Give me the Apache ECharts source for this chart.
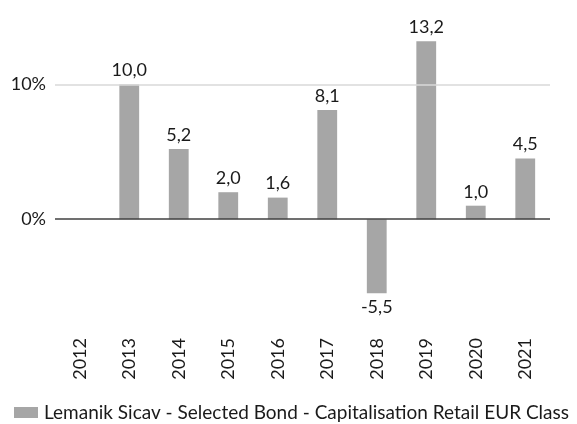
<!DOCTYPE html>
<html>
<head>
<meta charset="utf-8">
<script src="https://cdn.jsdelivr.net/npm/echarts@6/dist/echarts.min.js"></script>
<style>html,body{margin:0;padding:0;background:#fff}#c{width:577px;height:424px}</style>
</head>
<body>
<div id="c"></div>
<script>
var categories = ['2012','2013','2014','2015','2016','2017','2018','2019','2020','2021'];
var values = [null, 10.0, 5.2, 2.0, 1.6, 8.1, -5.5, 13.2, 1.0, 4.5];
var yTicks = [0, 10];
var seriesName = 'Lemanik Sicav - Selected Bond - Capitalisation Retail EUR Class';

var font = 'Lato';
var chart = echarts.init(document.getElementById('c'), null, {renderer: 'canvas'});
var data = values.map(function (v) {
  return v != null && v < 0 ? {value: v, label: {position: 'bottom'}} : v;
});
chart.setOption({
  animation: false,
  textStyle: {fontFamily: font},
  grid: {left: 55, right: 27, top: 17, bottom: 97, containLabel: false},
  legend: {
    top: 403, left: 14, padding: 0,
    itemWidth: 24, itemHeight: 11, itemGap: 6,
    icon: 'rect',
    textStyle: {fontFamily: font, fontSize: 19, color: '#1a1a1a', padding: [0, 0, 0, 1]},
    data: [seriesName]
  },
  xAxis: {
    type: 'category',
    data: categories,
    axisLine: {show: false, onZero: false},
    axisTick: {show: false},
    axisLabel: {rotate: 90, margin: 11, fontSize: 18, color: '#1a1a1a', fontFamily: font}
  },
  yAxis: {
    type: 'value',
    min: -8, max: 15,
    axisLine: {show: false},
    axisTick: {show: false},
    splitLine: {show: false},
    axisLabel: {customValues: yTicks, formatter: '{value}%', fontSize: 18, color: '#1a1a1a', margin: 9, fontFamily: font}
  },
  series: [{
    name: seriesName,
    type: 'bar',
    data: data,
    barWidth: '40%',
    itemStyle: {color: '#a6a6a6'},
    label: {
      show: true,
      fontSize: 18, color: '#1a1a1a', fontFamily: font,
      distance: 5,
      position: 'top',
      formatter: function (p) { return p.value == null ? '' : p.value.toFixed(1).replace('.', ','); }
    },
    markLine: {
      silent: true, symbol: 'none', label: {show: false},
      data: [
        {yAxis: 10, lineStyle: {color: '#d9d9d9', width: 1.5, type: 'solid'}},
        {yAxis: 0, lineStyle: {color: '#404040', width: 1.5, type: 'solid'}}
      ]
    },
    z: 3
  }]
});
</script>
</body>
</html>
